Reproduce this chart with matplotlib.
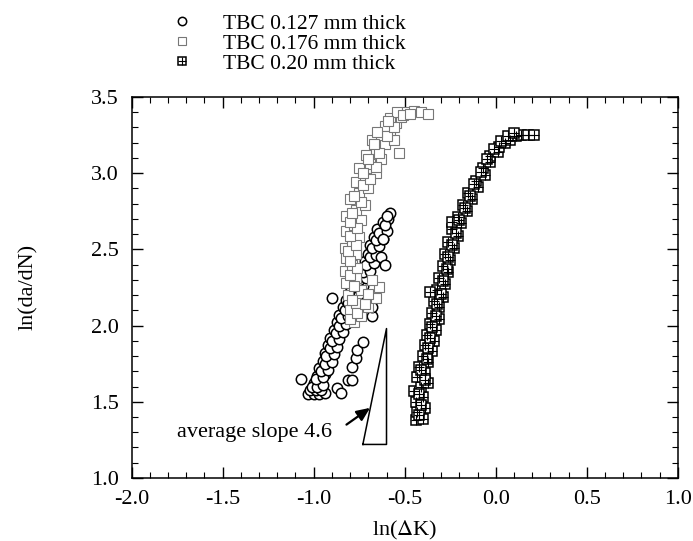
import matplotlib
matplotlib.use("Agg")
import matplotlib.pyplot as plt
from matplotlib.ticker import MultipleLocator
from matplotlib.legend_handler import HandlerTuple

plt.rcParams['font.family'] = ['Liberation Serif', 'DejaVu Serif']
plt.rcParams['mathtext.fontset'] = 'stix'

# TBC 0.127 mm thick (open circles)
tbc127_x = [-1.03, -1.00, -0.97, -0.94, -1.02, -0.99, -0.96,
            -1.00, -0.96, -0.98, -0.94, -0.97, -0.93, -0.95, -0.91, -0.94, -0.90,
            -0.92, -0.88, -0.91, -0.87, -0.89, -0.85, -0.87, -0.83, -0.86, -0.82,
            -0.84, -0.80, -0.82, -0.78, -0.80, -0.76, -0.78, -0.74, -0.76, -0.72,
            -0.74, -0.70, -0.72, -0.68, -0.70, -0.67, -0.69, -0.65, -0.67, -0.63,
            -0.65, -0.61, -0.62, -0.59, -0.58,
            -1.01, -0.98, -0.95, -0.99, -0.95, -0.96, -0.92, -0.94, -0.90, -0.93,
            -0.89, -0.91, -0.87, -0.90, -0.86, -0.88, -0.84, -0.86, -0.82, -0.85,
            -0.81, -0.83, -0.79, -0.81, -0.77, -0.79, -0.75, -0.77, -0.73, -0.75,
            -0.71, -0.73, -0.69, -0.71, -0.67, -0.69, -0.66, -0.68, -0.64, -0.66,
            -0.62, -0.64, -0.60, -0.61, -0.60,
            -1.07, -0.90, -0.87, -0.85, -0.81, -0.79, -0.79, -0.77, -0.76, -0.73,
            -0.68, -0.68, -0.63, -0.61, -0.62]
tbc127_y = [1.55, 1.55, 1.55, 1.56, 1.58, 1.58, 1.58,
            1.62, 1.63, 1.67, 1.68, 1.72, 1.73, 1.77, 1.78, 1.82, 1.83,
            1.87, 1.88, 1.92, 1.93, 1.97, 1.98, 2.02, 2.03, 2.07, 2.08,
            2.12, 2.13, 2.17, 2.18, 2.22, 2.23, 2.27, 2.28, 2.32, 2.33,
            2.37, 2.38, 2.42, 2.43, 2.47, 2.49, 2.53, 2.54, 2.58, 2.59,
            2.63, 2.64, 2.68, 2.70, 2.74,
            1.60, 1.60, 1.61, 1.65, 1.66, 1.70, 1.71, 1.75, 1.76, 1.80,
            1.81, 1.85, 1.86, 1.90, 1.91, 1.95, 1.96, 2.00, 2.01, 2.05,
            2.06, 2.10, 2.11, 2.15, 2.16, 2.20, 2.21, 2.25, 2.26, 2.30,
            2.31, 2.35, 2.36, 2.40, 2.41, 2.45, 2.46, 2.51, 2.52, 2.56,
            2.57, 2.61, 2.62, 2.66, 2.72,
            1.65, 2.18, 1.59, 1.56, 1.64, 1.64, 1.73, 1.79, 1.84, 1.89,
            2.06, 2.12, 2.45, 2.40, 2.57]

# TBC 0.176 mm thick (open squares)
tbc176_x = [-0.78, -0.74, -0.80, -0.70, -0.77, -0.66, -0.81, -0.74, -0.64, -0.82,
            -0.77, -0.68, -0.83, -0.79, -0.82, -0.77, -0.83, -0.79, -0.75, -0.82,
            -0.78, -0.74, -0.82, -0.77, -0.72, -0.80, -0.75, -0.70, -0.77, -0.72,
            -0.66, -0.75, -0.69, -0.63, -0.71, -0.53, -0.66, -0.61, -0.68, -0.56,
            -0.63, -0.58, -0.61, -0.55, -0.58, -0.52, -0.54, -0.49, -0.45, -0.41,
            -0.37,
            -0.80, -0.76, -0.72, -0.79, -0.70, -0.78, -0.80, -0.76, -0.80, -0.81,
            -0.77, -0.80, -0.76, -0.80, -0.79, -0.74, -0.78, -0.73, -0.69, -0.73,
            -0.66, -0.70, -0.64, -0.67, -0.60, -0.65, -0.56, -0.59, -0.51, -0.47]
tbc176_y = [2.02, 2.06, 2.10, 2.12, 2.15, 2.18, 2.20, 2.23, 2.25, 2.28,
            2.31, 2.30, 2.36, 2.40, 2.44, 2.47, 2.51, 2.55, 2.58, 2.62,
            2.66, 2.69, 2.72, 2.76, 2.79, 2.83, 2.87, 2.90, 2.94, 2.97,
            3.00, 3.03, 3.06, 3.09, 3.12, 3.13, 3.16, 3.19, 3.22, 3.22,
            3.25, 3.28, 3.31, 3.33, 3.36, 3.37, 3.40, 3.40, 3.41, 3.40,
            3.39,
            2.04, 2.08, 2.14, 2.17, 2.21, 2.26, 2.33, 2.38, 2.42, 2.49,
            2.53, 2.59, 2.64, 2.68, 2.74, 2.81, 2.85, 2.92, 2.96, 3.00,
            3.04, 3.09, 3.13, 3.19, 3.24, 3.27, 3.30, 3.34, 3.38, 3.39]

# TBC 0.20 mm thick (crossed squares)
tbc20_x = [-0.44, -0.40, -0.43, -0.39, -0.44, -0.40, -0.45, -0.41, -0.37, -0.43,
           -0.39, -0.42, -0.37, -0.40, -0.35, -0.39, -0.34, -0.38, -0.33, -0.36,
           -0.31, -0.35, -0.31, -0.34, -0.29, -0.32, -0.28, -0.31, -0.26, -0.29,
           -0.25, -0.28, -0.23, -0.26, -0.21, -0.24, -0.19, -0.21, -0.16, -0.18,
           -0.13, -0.15, -0.10, -0.11, -0.06, -0.07, -0.03, -0.03, 0.01, 0.02,
           0.05, 0.08, 0.11, 0.14, 0.18, 0.21, -0.36, -0.24,
           -0.42, -0.41, -0.42, -0.39, -0.41, -0.38, -0.37, -0.36, -0.35, -0.33,
           -0.32, -0.30, -0.29, -0.27, -0.26, -0.24, -0.22, -0.20, -0.17, -0.14,
           -0.12, -0.08, -0.05, -0.01, 0.03, 0.07, 0.10]
tbc20_y = [1.38, 1.39, 1.43, 1.46, 1.50, 1.53, 1.57, 1.60, 1.62, 1.66,
           1.69, 1.73, 1.76, 1.80, 1.83, 1.87, 1.90, 1.94, 1.97, 2.01,
           2.04, 2.08, 2.12, 2.16, 2.19, 2.23, 2.27, 2.31, 2.35, 2.39,
           2.43, 2.47, 2.51, 2.55, 2.59, 2.63, 2.67, 2.71, 2.75, 2.79,
           2.83, 2.87, 2.91, 2.95, 2.99, 3.03, 3.07, 3.11, 3.14, 3.17,
           3.20, 3.22, 3.24, 3.25, 3.25, 3.25, 2.22, 2.68,
           1.41, 1.48, 1.55, 1.64, 1.71, 1.78, 1.85, 1.92, 1.99, 2.06,
           2.14, 2.21, 2.29, 2.37, 2.45, 2.53, 2.61, 2.69, 2.77, 2.85,
           2.93, 3.01, 3.09, 3.16, 3.21, 3.24, 3.26]

labels = ['TBC 0.127 mm thick', 'TBC 0.176 mm thick', 'TBC 0.20 mm thick']

# slope triangle and its note
tri_x = [-0.73, -0.60, -0.60, -0.73]
tri_y = [1.22, 1.98, 1.22, 1.22]
note_text = 'average slope 4.6'
note_pos = (-1.75, 1.27)
arrow_tail = (-0.82, 1.35)
arrow_head = (-0.69, 1.46)

fig = plt.figure(figsize=(6.93, 5.41), dpi=100)
ax = fig.add_axes([0.190, 0.1165, 0.788, 0.7045])

h1, = ax.plot(tbc127_x, tbc127_y, 'o', ms=7.5, mfc='white', mec='black', mew=1.1, ls='none')
h2, = ax.plot(tbc176_x, tbc176_y, 's', ms=7.5, mfc='white', mec='#777777', mew=0.8, ls='none')
h3a, = ax.plot(tbc20_x, tbc20_y, 's', ms=7.5, mfc='white', mec='black', mew=1.1, ls='none')
h3b, = ax.plot(tbc20_x, tbc20_y, '+', ms=7.5, mec='black', mew=0.8, ls='none')

ax.plot(tri_x, tri_y, color='black', lw=1.1)
ax.text(note_pos[0], note_pos[1], note_text, fontsize=16, va='baseline', ha='left')
ax.annotate('', xy=arrow_head, xytext=arrow_tail,
            arrowprops=dict(arrowstyle='-|>,head_length=0.8,head_width=0.35',
                            mutation_scale=10, color='black', lw=1.6,
                            shrinkA=0, shrinkB=0))

ax.set_xlim(-2.0, 1.0)
ax.set_ylim(1.0, 3.5)
ax.xaxis.set_major_locator(MultipleLocator(0.5))
ax.xaxis.set_minor_locator(MultipleLocator(0.1))
ax.yaxis.set_major_locator(MultipleLocator(0.5))
ax.yaxis.set_minor_locator(MultipleLocator(0.1))
ax.xaxis.set_major_formatter(plt.FuncFormatter(lambda v, p: f'{v:.1f}'))
ax.yaxis.set_major_formatter(plt.FuncFormatter(lambda v, p: f'{v:.1f}'))
ax.tick_params(which='both', direction='in', top=True, right=True, labelsize=16, pad=9)
ax.tick_params(which='major', length=8, width=1)
ax.tick_params(which='minor', length=4, width=0.8)
for s in ax.spines.values():
    s.set_linewidth(1.1)

ax.set_xlabel(r'ln($\Delta$K)', fontsize=16, labelpad=7)
ax.set_ylabel('ln(da/dN)', fontsize=16, labelpad=38)

fig.legend([h1, h2, (h3a, h3b)], labels,
           handler_map={tuple: HandlerTuple(ndivide=1)},
           loc='upper left', bbox_to_anchor=(0.231, 0.995),
           bbox_transform=fig.transFigure, frameon=False,
           fontsize=15.5, handlelength=1.0, handletextpad=1.4,
           labelspacing=0.0, borderpad=0, markerscale=0.8)

fig.savefig('out.png', dpi=100)
